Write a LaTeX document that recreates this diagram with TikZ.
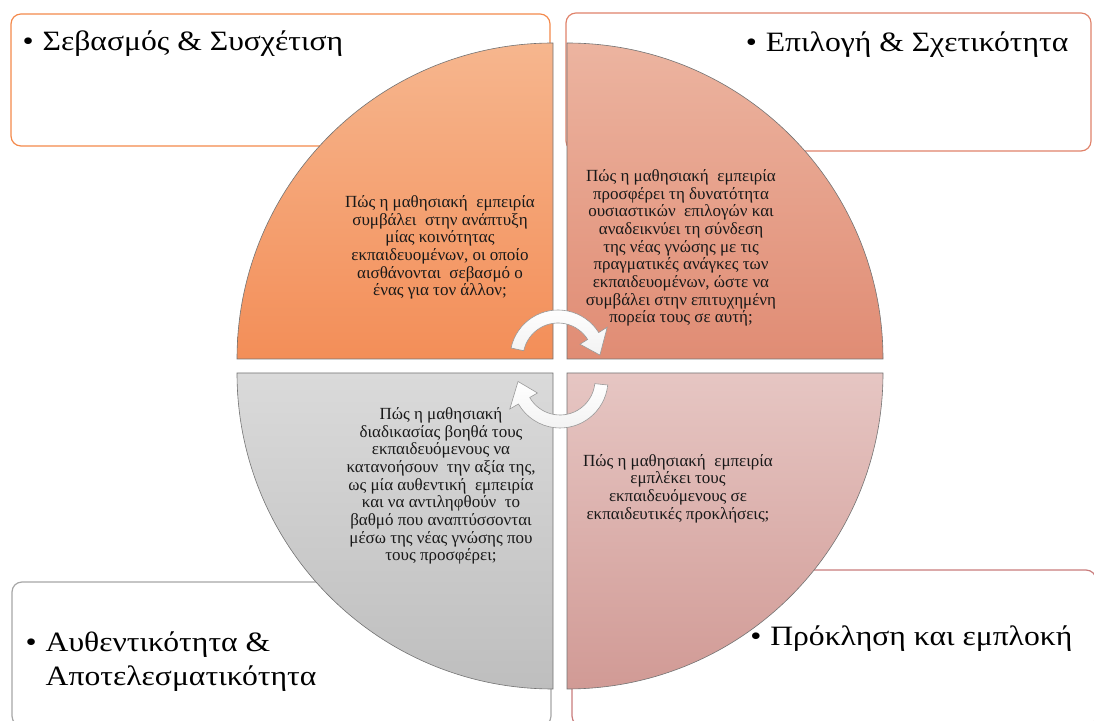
\documentclass[tikz,border=0pt]{standalone}
\usepackage{fontspec}
\setmainfont{Liberation Serif}
\newfontfamily\titlefont[FakeStretch=1.13]{Liberation Serif}
\usepackage{tikz}
\usetikzlibrary{calc, positioning}

\definecolor{respectline}{HTML}{F4894B}
\definecolor{choiceline}{HTML}{E0826A}
\definecolor{authline}{HTML}{A6A6A6}
\definecolor{challengeline}{HTML}{C97C7C}
\definecolor{respecttop}{HTML}{F6B68E}
\definecolor{respectbottom}{HTML}{F38E58}
\definecolor{choicetop}{HTML}{ECB4A0}
\definecolor{choicebottom}{HTML}{E08C74}
\definecolor{authtop}{HTML}{DADADA}
\definecolor{authbottom}{HTML}{BEBEBE}
\definecolor{challengetop}{HTML}{E6C6C3}
\definecolor{challengebottom}{HTML}{D19A95}

\newcommand{\tbullet}{•\hspace{9pt}}

\begin{document}
\begin{tikzpicture} [x=1pt, y=1pt,
		% define styles
		boxstyle/.style={
			% The shape:
			rectangle,
			% The border:
			line width=1.2pt,
			% The filling:
			fill=white,
			% Corners
			rounded corners=3.5mm,
			inner sep=0pt
		},
		quarterstyle/.style={
			% The border:
			draw=black!55,
			line width=0.6pt
		},
		titlestyle/.style={
			inner sep=0pt,
			align=left,
			% Font
			font=\titlefont\fontsize{28}{34}\selectfont
		},
		questionstyle/.style={
			inner sep=0pt,
			align=center,
			text=black!90,
			% Font
			font=\fontsize{17}{17.7}\selectfont
		},
		turnarrow/.style={
			% The border:
			draw=black!40,
			line width=0.6pt,
			% The filling:
			top color=white,
			bottom color=black!5
		}]
		% end of style definition

		\useasboundingbox (0,0) rectangle (1094,720);
		\clip (0,0) rectangle (1094,720);

		% draw boxes
		\node (iRespectBox) [boxstyle, draw=respectline, minimum width=539pt, minimum height=132pt] at (280.5,640) {};
		\node (iChoiceBox) [boxstyle, draw=choiceline, minimum width=525pt, minimum height=138pt] at (828.5,638) {};
		\node (iAuthBox) [boxstyle, draw=authline, minimum width=539pt, minimum height=144pt] at (281.5,66) {};
		\node (iChallengeBox) [boxstyle, draw=challengeline, minimum width=524pt, minimum height=156pt] at (834,72) {};

		% draw quarters
		\draw [quarterstyle, top color=respecttop, bottom color=respectbottom]
			(553,361) -- ++(-316,0) arc[start angle=180, end angle=90, radius=316] -- cycle;
		\draw [quarterstyle, top color=choicetop, bottom color=choicebottom]
			(567,361) -- ++(0,316) arc[start angle=90, end angle=0, radius=316] -- cycle;
		\draw [quarterstyle, top color=authtop, bottom color=authbottom]
			(553,347) -- ++(0,-316) arc[start angle=270, end angle=180, radius=316] -- cycle;
		\draw [quarterstyle, top color=challengetop, bottom color=challengebottom]
			(567,347) -- ++(316,0) arc[start angle=0, end angle=-90, radius=316] -- cycle;

		% titles
		\node (iRespectTitle) [titlestyle, below right=17pt and 12pt of iRespectBox.north west] {\tbullet Σεβασμός \& Συσχέτιση};
		\node (iChoiceTitle) [titlestyle, below left=19pt and 23pt of iChoiceBox.north east] {\tbullet Επιλογή \& Σχετικότητα};
		\node (iAuthTitle) [titlestyle, below right=50pt and 14pt of iAuthBox.north west] {\tbullet Αυθεντικότητα \&\\\hphantom{\tbullet}Αποτελεσματικότητα};
		\node (iChallengeTitle) [titlestyle, below left=56pt and 24pt of iChallengeBox.north east] {\tbullet Πρόκληση και εμπλοκή};

		% questions
		\node (iRespectText) [questionstyle] at (440,472.5) {Πώς η μαθησιακή \ εμπειρία\\συμβάλει \ στην ανάπτυξη\\μίας κοινότητας\\εκπαιδευομένων, οι οποίο\\αισθάνονται \ σεβασμό ο\\ένας για τον άλλον;};
		\node (iChoiceText) [questionstyle] at (681,472) {Πώς η μαθησιακή \ εμπειρία\\προσφέρει τη δυνατότητα\\ουσιαστικών \ επιλογών και\\αναδεικνύει τη σύνδεση\\της νέας γνώσης με τις\\πραγματικές ανάγκες των\\εκπαιδευομένων, ώστε να\\συμβάλει στην επιτυχημένη\\πορεία τους σε αυτή;};
		\node (iAuthText) [questionstyle] at (441,234) {Πώς η μαθησιακή\\διαδικασίας βοηθά τους\\εκπαιδευόμενους να\\κατανοήσουν \ την αξία της,\\ως μία αυθεντική \ εμπειρία\\και να αντιληφθούν \ το\\βαθμό που αναπτύσσονται\\μέσω της νέας γνώσης που\\τους προσφέρει;};
		\node (iChallengeText) [questionstyle] at (678,231.5) {Πώς η μαθησιακή \ εμπειρία\\εμπλέκει τους\\εκπαιδευόμενους σε\\εκπαιδευτικές προκλήσεις;};

		% turning arrows
		\coordinate (iTurnTop) at (558,362);
		\coordinate (iTurnBottom) at (560,340);
		\draw [turnarrow] ($(iTurnTop)+(168:48)$) arc[start angle=168, end angle=32, radius=48]
			-- ($(iTurnTop)+(32:58)$) -- ($(iTurnTop)+(4:42)$) -- ($(iTurnTop)+(32:26)$)
			-- ($(iTurnTop)+(32:35)$) arc[start angle=32, end angle=168, radius=35] -- cycle;
		\draw [turnarrow] ($(iTurnBottom)+(-6:48)$) arc[start angle=-6, end angle=-150, radius=48]
			-- ($(iTurnBottom)+(-150:58)$) -- ($(iTurnBottom)+(-178:42)$) -- ($(iTurnBottom)+(-150:26)$)
			-- ($(iTurnBottom)+(-150:35)$) arc[start angle=-150, end angle=-6, radius=35] -- cycle;
	\end{tikzpicture}
\end{document}
